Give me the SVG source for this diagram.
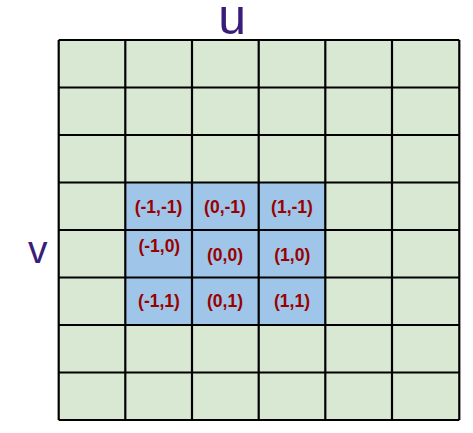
<svg xmlns="http://www.w3.org/2000/svg" width="473" height="433" viewBox="0 0 473 433">
<style>
.cell{fill:#d9e8d3;}
.hl{fill:#9fc5e8;}
.grid{stroke:#000;stroke-width:2.2;fill:none;}
.lbl{font-family:"Liberation Sans",Arial,sans-serif;font-weight:bold;font-size:17.5px;fill:#990000;text-anchor:middle;}
.axis{font-family:"Liberation Sans",Arial,sans-serif;fill:#3a1d78;text-anchor:middle;}
</style>
<rect width="473" height="433" fill="#ffffff"/>
<g id="background">
<rect class="cell" x="58.7" y="40" width="400.6" height="380"/>
<rect class="hl" x="125.3" y="182.5" width="200" height="142.5"/>
</g>
<g id="grid">
<path class="grid" d="M58.7 40V420M125.3 40V420M192 40V420M258.7 40V420M325.3 40V420M392 40V420M459.3 40V420M58.7 40H459.3M58.7 87.5H459.3M58.7 135H459.3M58.7 182.5H459.3M58.7 230H459.3M58.7 277.5H459.3M58.7 325H459.3M58.7 372.5H459.3M58.7 420H459.3"/>
</g>
<g id="labels">
<text class="lbl" x="158.5" y="212.5">(-1,-1)</text>
<text class="lbl" x="225" y="212.5">(0,-1)</text>
<text class="lbl" x="292" y="212.5">(1,-1)</text>
<text class="lbl" x="159.3" y="252.3">(-1,0)</text>
<text class="lbl" x="225" y="260.6">(0,0)</text>
<text class="lbl" x="292.3" y="260.6">(1,0)</text>
<text class="lbl" x="159" y="307">(-1,1)</text>
<text class="lbl" x="225" y="307">(0,1)</text>
<text class="lbl" x="292" y="307">(1,1)</text>
</g>
<g id="axis-u"><text class="axis" x="232.2" y="34" font-size="50">u</text></g>
<g id="axis-v"><text class="axis" x="37.8" y="263.3" font-size="39">v</text></g>
</svg>
